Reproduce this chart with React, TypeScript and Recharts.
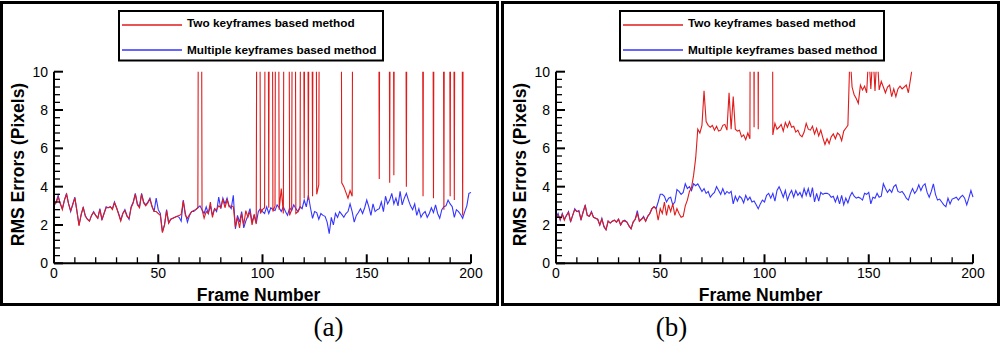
import React from 'react';
import { LineChart, Line, XAxis, YAxis, Legend } from 'recharts';

const FONT = "'Liberation Sans', Arial, sans-serif";

const seriesNames = ['Two keyframes based method', 'Multiple keyframes based method'];
const seriesColors = ['#e01b1b', '#3535ff'];
const panelCaptions = ['(a)', '(b)'];
const xAxisTitle = 'Frame Number';
const yAxisTitle = 'RMS Errors (Pixels)';

const xTicks = [0, 10, 20, 30, 40, 50, 60, 70, 80, 90, 100, 110, 120, 130, 140, 150, 160, 170, 180, 190, 200];
const xTickLabels = [0, 50, 100, 150, 200];
const yTicks = [0, 0.4, 0.8, 1.2, 1.6, 2, 2.4, 2.8, 3.2, 3.6, 4, 4.4, 4.8, 5.2, 5.6, 6, 6.4, 6.8, 7.2, 7.6, 8, 8.4, 8.8, 9.2, 9.6, 10];
const yTickLabels = [0, 2, 4, 6, 8, 10];

// frame numbers 0..200 (category axis)
const frames = Array.from({ length: 201 }, (_, i) => i);

// Panel (a) — multiple keyframes based method
const multiA = [
  3.0, 3.2, 3.55, 3.1, 2.85, 3.3, 3.65, 3.1, 2.7, 3.1,
  3.45, 2.7, 2.0, 2.5, 2.95, 2.5, 2.3, 2.2, 2.5, 2.7,
  2.5, 2.35, 2.85, 2.25, 2.6, 2.95, 2.9, 2.95, 2.85, 3.2,
  2.9, 2.6, 2.25, 2.6, 2.8, 2.5, 2.3, 2.95, 3.2, 3.65,
  3.1, 2.95, 3.65, 3.2, 3.05, 3.2, 3.4, 3.0, 2.7, 3.4,
  2.8, 2.6, 1.65, 2.0, 2.8, 2.1, 2.3, 2.35, 2.4, 2.45,
  2.4, 2.2, 3.3, 2.6, 2.15, 2.5, 2.7, 2.7, 2.8, 2.9,
  3.0, 2.8, 2.6, 2.95, 2.6, 3.0, 2.5, 2.85, 2.7, 3.45,
  2.85, 3.4, 3.1, 3.4, 3.0, 2.85, 3.55, 1.8, 2.5, 2.15,
  2.7, 1.85, 2.2, 2.5, 2.85, 2.15, 2.5, 2.1, 2.7, 2.85,
  2.7, 2.6, 2.95, 2.6, 2.9, 2.8, 2.75, 3.05, 2.9, 2.7,
  2.95, 2.7, 2.5, 2.9, 2.75, 3.05, 2.85, 2.7, 2.95, 2.85,
  3.3, 2.95, 3.55, 2.9, 2.35, 2.7, 2.65, 2.3, 2.6, 2.5,
  2.45, 2.15, 1.55, 2.4, 2.0, 2.6, 2.4, 2.7, 2.55, 2.4,
  2.6, 2.7, 3.1, 2.7, 2.15, 2.5, 2.65, 2.85, 2.6, 2.9,
  3.3, 2.95, 2.5, 3.1, 2.7, 2.8, 2.85, 3.2, 2.7, 3.5,
  3.1, 3.3, 3.65, 3.1, 3.4, 3.0, 3.75, 3.05, 3.4, 3.65,
  3.3, 3.0, 2.8, 3.1, 2.5, 2.85, 2.4, 2.6, 2.7, 2.4,
  2.6, 2.9, 2.65, 3.05, 2.6, 2.35, 2.8, 2.95, 3.0, 3.3,
  3.1, 2.95, 2.4, 2.8, 2.7, 2.55, 2.35, 2.7, 3.0, 3.65,
  3.7,
];

// Panel (a) — two keyframes based method (values far above 10 run off the top)
const twoA = [
  3.05, 3.15, 3.45, 3.15, 2.8, 3.3, 3.6, 3.1, 2.75, 3.05,
  3.4, 2.75, 1.95, 2.55, 2.9, 2.45, 2.3, 2.2, 2.5, 2.65,
  2.5, 2.35, 2.8, 2.3, 2.6, 2.9, 2.9, 2.95, 2.8, 3.15,
  2.9, 2.55, 2.2, 2.6, 2.75, 2.45, 2.35, 2.9, 3.15, 3.6,
  3.05, 2.9, 3.6, 3.15, 3.0, 3.15, 3.35, 2.95, 2.7, 2.7,
  2.6, 2.5, 1.6, 2.0, 2.75, 2.1, 2.3, 2.35, 2.4, 2.45,
  2.5, 2.55, 3.25, 2.5, 2.35, 2.55, 2.7, 2.75, 2.8, 2.9,
  50, 2.8, 2.35, 2.7, 2.6, 3.2, 2.4, 2.85, 2.8, 3.0,
  2.9, 3.35, 2.9, 3.3, 2.95, 3.0, 2.95, 1.9, 2.4, 1.85,
  2.6, 2.0, 2.75, 2.4, 2.7, 2.0, 2.55, 2.05, 50, 2.6,
  2.8, 2.9, 50, 2.9, 50, 2.7, 3.0, 50, 2.8, 3.9,
  2.6, 50, 50, 2.5, 2.8, 50, 2.6, 2.7, 2.9, 50,
  3.4, 50, 3.3, 50, 3.5, 50, 3.6, 4.1, 50, 50,
  50, 50, 50, 50, 50, 50, 50, 50, 4.2, 4.0,
  3.7, 3.4, 3.8, 3.5, 50, 50, 50, 50, 50, 50,
  50, 50, 50, 50, 50, 50, 4.4, 50, 50, 50,
  50, 4.2, 50, 4.6, 50, 50, 50, 50, 50, 4.0,
  50, 50, 50, 50, 50, 50, 50, 3.5, 50, 50,
  50, 50, 3.4, 50, 50, 50, 50, 2.8, 50, 50,
  3.5, 50, 3.3, 50, 50, 50, 2.5, 50, null, null,
  null,
];

// Panel (b) — multiple keyframes based method
const multiB = [
  2.4, 2.6, 2.25, 2.6, 2.3, 2.5, 2.7, 2.15, 2.5, 2.85,
  2.7, 2.75, 2.25, 2.7, 3.05, 2.5, 2.45, 2.7, 2.4, 2.35,
  2.3, 2.0, 2.35, 1.9, 1.75, 2.2, 2.1, 2.2, 2.25, 2.15,
  2.3, 2.0, 2.2, 2.25, 2.15, 1.95, 1.8, 2.15, 2.3, 2.75,
  2.2, 2.3, 2.45, 2.2, 2.45, 2.6, 2.85, 2.95, 2.85, 3.2,
  3.6, 3.6, 3.5, 3.2, 3.4, 3.45, 3.05, 3.2, 3.85, 3.75,
  3.6, 3.7, 4.15, 3.9, 4.0, 3.8, 4.15, 4.05, 4.15, 3.95,
  3.75, 3.9, 3.65, 3.75, 3.45, 3.6, 3.7, 4.0, 3.8, 3.6,
  3.9, 3.6, 3.75, 3.65, 3.75, 3.1, 3.5, 3.25, 3.5, 3.4,
  3.15, 3.55, 3.3, 3.45, 3.2, 3.25, 3.05, 2.85, 3.1, 3.3,
  3.2, 3.55, 3.65, 3.4, 3.65, 3.25, 3.8, 4.0, 3.75, 3.45,
  3.8, 3.3, 3.6, 3.8, 3.45, 3.8, 3.55, 3.7, 3.45, 3.9,
  3.55, 3.9, 3.45, 3.95, 3.2, 3.65, 3.25, 3.7, 3.6, 3.65,
  3.65, 3.6, 3.45, 3.5, 3.2, 3.5, 3.1, 3.55, 3.05, 3.4,
  3.15, 3.5, 3.7, 3.5, 3.4, 3.45, 3.4, 3.3, 3.65, 3.6,
  3.7, 3.1, 3.45, 3.4, 3.65, 3.45, 3.5, 4.15, 3.9, 3.7,
  3.85, 3.7, 4.0, 4.1, 3.75, 3.7, 3.75, 3.6, 3.4, 3.3,
  3.65, 3.9, 3.65, 3.8, 4.1, 3.8, 4.05, 4.15, 3.7, 3.45,
  3.75, 4.15, 3.6, 3.3, 3.35, 3.2, 3.05, 2.95, 3.4, 3.1,
  3.35, 3.4, 3.45, 3.3, 3.45, 3.55, 3.4, 3.05, 3.4, 3.8,
  3.45,
];

// Panel (b) — two keyframes based method
const twoB = [
  2.35, 2.5, 2.3, 2.55, 2.25, 2.5, 2.65, 2.2, 2.5, 2.8,
  2.7, 2.7, 2.3, 2.65, 3.0, 2.5, 2.45, 2.65, 2.4, 2.35,
  2.3, 2.0, 2.3, 1.95, 1.75, 2.2, 2.1, 2.2, 2.25, 2.15,
  2.3, 2.0, 2.2, 2.2, 2.15, 1.95, 1.8, 2.15, 2.3, 2.6,
  2.2, 2.3, 2.4, 2.2, 2.45, 2.6, 2.85, 2.95, 2.85, 2.25,
  2.85, 2.6, 3.2, 2.5, 3.05, 2.7, 3.1, 2.5, 2.85, 2.6,
  2.4, 2.45, 3.0, 3.3, 3.75, 3.95, 4.6, 5.5, 7.0, 6.8,
  7.2, 9.0, 7.4, 7.2, 7.1, 7.2, 6.95, 7.15, 6.9, 6.95,
  7.2, 7.25, 6.95, 8.9, 7.0, 8.7, 7.0, 6.9, 6.95, 6.6,
  6.7, 6.45, 6.8, 6.5, 50, 7.1, 50, 7.0, 50, 50,
  50, 50, 50, 50, 6.7, 7.3, 7.0, 7.1, 7.25, 6.9,
  7.35, 7.1, 7.4, 7.1, 7.15, 6.85, 6.95, 6.7, 6.6, 6.85,
  7.3, 7.0, 6.95, 7.15, 6.75, 7.05, 6.65, 6.95, 6.55, 6.2,
  6.5, 6.25, 6.6, 6.75, 6.5, 6.8, 6.7, 6.4, 6.9, 7.05,
  7.2, 11, 9.2, 8.8, 8.6, 8.35, 9.3, 9.05, 9.25, 8.9,
  11, 9.1, 11, 9.0, 11, 9.05, 9.5, 9.2, 8.9, 9.2,
  9.3, 8.7, 9.1, 8.7, 9.1, 9.25, 9.1, 9.2, 9.3, 8.9,
  9.6, 10.3, null, null, null, null, null, null, null, null,
  null, null, null, null, null, null, null, null, null, null,
  null, null, null, null, null, null, null, null, null, null,
  null,
];

const dataA = frames.map((f, i) => ({ frame: f, two: twoA[i], multi: multiA[i] }));
const dataB = frames.map((f, i) => ({ frame: f, two: twoB[i], multi: multiB[i] }));

const XTick = (props: any) => {
  const { x, y, payload } = props;
  const v = payload.value;
  const major = xTickLabels.includes(v);
  return (
    <g>
      <line x1={x} x2={x} y1={y} y2={y - (major ? 9 : 6)} stroke="#000" strokeWidth={major ? 2 : 1.3} />
      {major ? (
        <text x={x} y={y + 14.7} textAnchor="middle" fontFamily={FONT} fontSize={14} fill="#000">
          {v}
        </text>
      ) : null}
    </g>
  );
};

const YTick = (props: any) => {
  const { x, y, payload } = props;
  const v = payload.value;
  const major = yTickLabels.includes(v);
  return (
    <g>
      <line x1={x} x2={x + (major ? 9 : 6)} y1={y} y2={y} stroke="#000" strokeWidth={major ? 2 : 1.3} />
      {major ? (
        <text x={x - 6} y={y} textAnchor="end" dominantBaseline="central" fontFamily={FONT} fontSize={14} fill="#000">
          {v}
        </text>
      ) : null}
    </g>
  );
};

const YTitle = (props: any) => {
  const vb = props.viewBox || { x: 14, y: 71.7, width: 40, height: 191.6 };
  const cx = vb.x + 4.3;
  const cy = vb.y + vb.height / 2 - 3;
  return (
    <text
      x={cx}
      y={cy}
      transform={`rotate(-90, ${cx}, ${cy})`}
      textAnchor="middle"
      dominantBaseline="central"
      fontFamily={FONT}
      fontWeight="bold"
      fontSize={17.5}
      fill="#000"
    >
      {yAxisTitle}
    </text>
  );
};

const XTitle = (props: any) => {
  const vb = props.viewBox || { x: 54, y: 263.3, width: 417, height: 30 };
  const cx = vb.x + vb.width / 2 - 4;
  return (
    <text x={cx} y={vb.y + 37.7} textAnchor="middle" fontFamily={FONT} fontWeight="bold" fontSize={17.5} fill="#000">
      {xAxisTitle}
    </text>
  );
};

const LegendBox = () => (
  <svg width={266} height={52} style={{ display: 'block', overflow: 'visible' }}>
    <rect x={1} y={1} width={264} height={49.5} fill="#fff" stroke="#000" strokeWidth={2} />
    <line x1={4} x2={64} y1={15} y2={15} stroke={seriesColors[0]} strokeWidth={1.4} />
    <text x={69} y={13.4} dominantBaseline="central" fontFamily={FONT} fontWeight="bold" fontSize={11.8} fill="#000">
      {seriesNames[0]}
    </text>
    <line x1={4} x2={64} y1={40} y2={40} stroke={seriesColors[1]} strokeWidth={1.4} />
    <text x={69} y={39.6} dominantBaseline="central" fontFamily={FONT} fontWeight="bold" fontSize={11.8} fill="#000">
      {seriesNames[1]}
    </text>
  </svg>
);

function Panel({ data, left, marginLeft, marginRight, legendLeft }: any) {
  return (
    <div style={{ position: 'absolute', left, top: 0, width: 500, height: 343 }}>
      <LineChart
        width={500}
        height={343}
        data={data}
        margin={{ top: 71.7, right: marginRight, bottom: 49.7, left: marginLeft }}
      >
        <XAxis
          dataKey="frame"
          type="number"
          domain={[0, 200]}
          ticks={xTicks}
          interval={0}
          height={30}
          tickLine={false}
          tickSize={0}
          tickMargin={0}
          axisLine={{ stroke: '#000', strokeWidth: 2 }}
          tick={(p: any) => <XTick {...p} />}
          label={(p: any) => <XTitle {...p} />}
        />
        <YAxis
          type="number"
          domain={[0, 10]}
          allowDataOverflow
          ticks={yTicks}
          interval={0}
          width={40}
          tickLine={false}
          tickSize={0}
          tickMargin={0}
          axisLine={{ stroke: '#000', strokeWidth: 2 }}
          tick={(p: any) => <YTick {...p} />}
          label={(p: any) => <YTitle {...p} />}
        />
        <Legend
          layout="horizontal"
          verticalAlign="middle"
          align="center"
          width={266}
          height={52}
          wrapperStyle={{ left: legendLeft, top: 10, width: 266, height: 52 }}
          content={() => <LegendBox />}
        />
        <Line
          dataKey="multi"
          name={seriesNames[1]}
          stroke={seriesColors[1]}
          strokeWidth={1.1}
          dot={false}
          activeDot={false}
          isAnimationActive={false}
        />
        <Line
          dataKey="two"
          name={seriesNames[0]}
          stroke={seriesColors[0]}
          strokeWidth={1.1}
          dot={false}
          activeDot={false}
          isAnimationActive={false}
        />
      </LineChart>
    </div>
  );
}

const captionStyle = (cx: number): React.CSSProperties => ({
  position: 'absolute',
  left: cx - 50,
  width: 100,
  top: 314.4,
  textAlign: 'center',
  fontFamily: "'Liberation Serif', 'Times New Roman', serif",
  fontSize: 27,
  lineHeight: '27px',
  color: '#000',
});

export default function App() {
  return (
    <div style={{ position: 'absolute', left: 0, top: 0, width: 1000, height: 343, background: '#fff', overflow: 'hidden' }}>
      <div style={{ position: 'absolute', left: 0, top: 1, width: 499, height: 305, border: '3px solid #000', boxSizing: 'border-box' }} />
      <div style={{ position: 'absolute', left: 501, top: 1, width: 499, height: 305, border: '3px solid #000', boxSizing: 'border-box' }} />
      <Panel data={dataA} left={0} marginLeft={14} marginRight={29} legendLeft={118} />
      <Panel data={dataB} left={500} marginLeft={16} marginRight={27} legendLeft={119} />
      <div style={captionStyle(328.5)}>{panelCaptions[0]}</div>
      <div style={captionStyle(671.5)}>{panelCaptions[1]}</div>
    </div>
  );
}
